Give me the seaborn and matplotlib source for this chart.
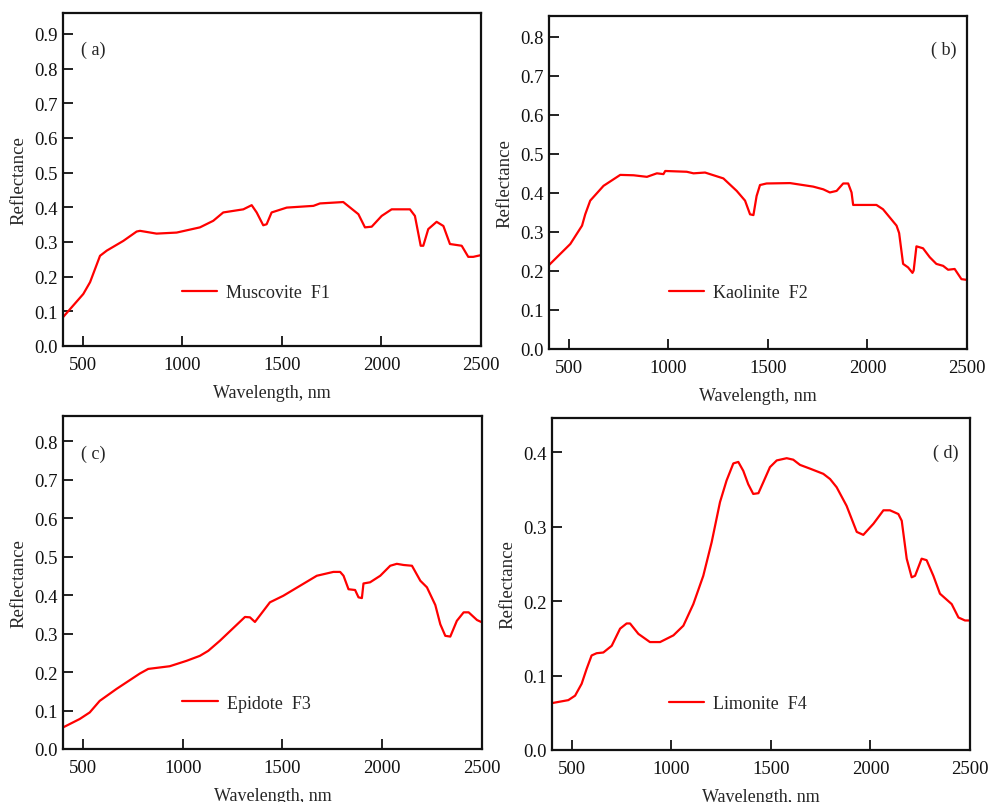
import numpy as np
import pandas as pd
import matplotlib
matplotlib.use("Agg")
import matplotlib.pyplot as plt
import seaborn as sns

# ---- data ----
wl_muscovite = [400, 502, 536, 586, 620, 703, 770, 787, 870, 971, 1088, 1155, 1205, 1306, 1348,
                1373, 1406, 1423, 1448, 1524, 1658, 1691, 1808, 1884, 1917, 1951, 2001, 2051,
                2143, 2168, 2197, 2210, 2235, 2277, 2311, 2344, 2403, 2436, 2461, 2500]
r_muscovite = [0.083, 0.150, 0.184, 0.260, 0.275, 0.303, 0.330, 0.332, 0.324, 0.327, 0.342, 0.361,
               0.385, 0.394, 0.406, 0.385, 0.348, 0.351, 0.385, 0.399, 0.404, 0.411, 0.415, 0.380,
               0.342, 0.344, 0.375, 0.394, 0.394, 0.375, 0.289, 0.289, 0.337, 0.358, 0.346, 0.294,
               0.289, 0.257, 0.257, 0.262]

wl_kaolinite = [400, 507, 566, 582, 607, 674, 758, 825, 892, 942, 975, 984, 1092, 1126, 1184, 1276,
                1343, 1385, 1410, 1427, 1443, 1460, 1493, 1611, 1727, 1778, 1811, 1845, 1878, 1903,
                1920, 1928, 1945, 2045, 2078, 2146, 2159, 2179, 2204, 2226, 2232, 2246, 2279, 2313,
                2346, 2380, 2405, 2438, 2472, 2500]
r_kaolinite = [0.215, 0.269, 0.316, 0.345, 0.380, 0.418, 0.446, 0.445, 0.441, 0.450, 0.448, 0.456,
               0.454, 0.450, 0.452, 0.437, 0.405, 0.380, 0.345, 0.343, 0.392, 0.420, 0.424, 0.425,
               0.416, 0.409, 0.401, 0.405, 0.424, 0.424, 0.401, 0.369, 0.369, 0.369, 0.358, 0.316,
               0.297, 0.218, 0.209, 0.195, 0.201, 0.263, 0.258, 0.235, 0.218, 0.213, 0.203, 0.205,
               0.179, 0.177]

wl_epidote = [400, 484, 534, 584, 668, 785, 827, 935, 1019, 1086, 1128, 1186, 1312, 1337, 1362, 1437,
              1504, 1672, 1755, 1789, 1806, 1831, 1864, 1881, 1898, 1906, 1939, 1990, 2040, 2073,
              2107, 2149, 2191, 2224, 2266, 2291, 2316, 2341, 2374, 2408, 2433, 2475, 2500]
r_epidote = [0.056, 0.078, 0.095, 0.125, 0.156, 0.196, 0.208, 0.215, 0.229, 0.242, 0.255, 0.281,
             0.343, 0.342, 0.330, 0.381, 0.398, 0.450, 0.460, 0.460, 0.450, 0.415, 0.413, 0.394,
             0.392, 0.430, 0.433, 0.450, 0.476, 0.481, 0.478, 0.476, 0.437, 0.420, 0.374, 0.324,
             0.294, 0.292, 0.333, 0.355, 0.355, 0.335, 0.329]

wl_limonite = [400, 482, 516, 549, 574, 599, 624, 658, 700, 742, 775, 792, 834, 892, 943, 1010, 1060,
               1110, 1160, 1202, 1244, 1277, 1311, 1336, 1361, 1386, 1411, 1437, 1462, 1495, 1529,
               1579, 1612, 1646, 1696, 1763, 1797, 1830, 1880, 1931, 1964, 2015, 2065, 2098, 2140,
               2157, 2182, 2207, 2224, 2257, 2282, 2316, 2349, 2408, 2442, 2475, 2500]
r_limonite = [0.063, 0.067, 0.073, 0.089, 0.109, 0.127, 0.130, 0.131, 0.140, 0.163, 0.170, 0.170,
              0.156, 0.145, 0.145, 0.154, 0.167, 0.196, 0.234, 0.279, 0.333, 0.362, 0.385, 0.387,
              0.375, 0.357, 0.344, 0.345, 0.360, 0.380, 0.389, 0.392, 0.390, 0.383, 0.378, 0.371,
              0.364, 0.353, 0.328, 0.293, 0.289, 0.304, 0.322, 0.322, 0.317, 0.308, 0.257, 0.232,
              0.234, 0.257, 0.255, 0.234, 0.210, 0.196, 0.178, 0.174, 0.174]

series_names = ["Muscovite  F1", "Kaolinite  F2", "Epidote  F3", "Limonite  F4"]
panel_tags = ["( a)", "( b)", "( c)", "( d)"]
x_ticks = [500, 1000, 1500, 2000, 2500]
y_max = [0.96, 0.853, 0.865, 0.446]
y_ticks = [np.arange(0, 0.91, 0.1), np.arange(0, 0.81, 0.1), np.arange(0, 0.81, 0.1), np.arange(0, 0.41, 0.1)]

all_wl = [wl_muscovite, wl_kaolinite, wl_epidote, wl_limonite]
all_r = [r_muscovite, r_kaolinite, r_epidote, r_limonite]

# ---- style ----
sns.set_style("ticks")
plt.rcParams["font.family"] = ["Liberation Serif", "DejaVu Serif"]

fig = plt.figure(figsize=(9.93, 8.03), dpi=100)
positions = [
    [63 / 993, 1 - 347 / 803, 418 / 993, 333 / 803],
    [549 / 993, 1 - 350 / 803, 418 / 993, 333 / 803],
    [63 / 993, 1 - 750 / 803, 419 / 993, 333 / 803],
    [552 / 993, 1 - 751 / 803, 418 / 993, 332 / 803],
]
legend_anchor = [(0.285, 0.160), (0.287, 0.170), (0.285, 0.138), (0.280, 0.140)]
tag_xy = [(0.043, 0.890), (0.915, 0.899), (0.043, 0.888), (0.912, 0.898)]

for i in range(4):
    ax = fig.add_axes(positions[i])
    df = pd.DataFrame({"Wavelength": all_wl[i], "Reflectance": all_r[i], "Mineral": series_names[i]})
    sns.lineplot(data=df, x="Wavelength", y="Reflectance", hue="Mineral",
                 palette=["#ff0000"], linewidth=1.6, ax=ax, legend=True)
    ax.set_xlim(400, 2500)
    ax.set_ylim(0, y_max[i])
    ax.set_xticks(x_ticks)
    ax.set_xticklabels([str(t) for t in x_ticks])
    ax.set_yticks(y_ticks[i])
    ax.set_yticklabels([f"{t:.1f}" for t in y_ticks[i]])
    ax.tick_params(axis="both", direction="in", length=7, width=1.3, labelsize=13.5,
                   top=False, right=False, colors="#111111")
    ax.tick_params(axis="y", pad=4)
    ax.tick_params(axis="x", pad=7)
    for s in ax.spines.values():
        s.set_linewidth(1.6)
        s.set_color("#111111")
        s.set_visible(True)
    ax.set_xlabel("Wavelength, nm", fontsize=13, labelpad=8)
    ax.set_ylabel("Reflectance", fontsize=13.5, labelpad=5)
    leg = ax.legend(loc="center left", bbox_to_anchor=legend_anchor[i], frameon=False,
                    fontsize=13, handlelength=1.95, handletextpad=0.5, borderpad=0,
                    borderaxespad=0)
    for line in leg.get_lines():
        line.set_linewidth(1.6)
    ax.text(tag_xy[i][0], tag_xy[i][1], panel_tags[i],
            transform=ax.transAxes, fontsize=13, ha="left", va="center")

fig.savefig("out.png", dpi=100)
